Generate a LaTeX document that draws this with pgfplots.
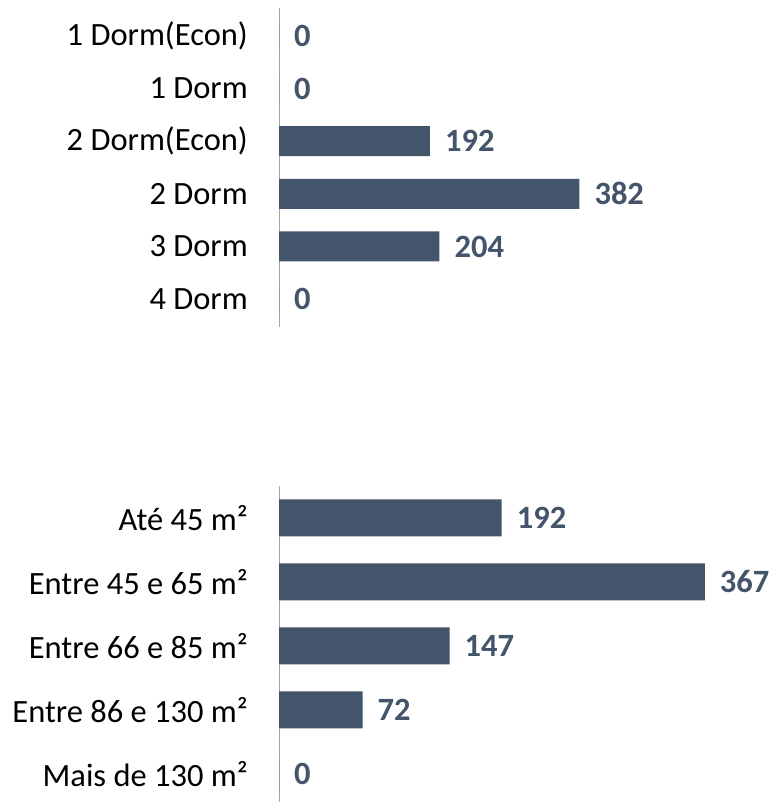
\documentclass[border=0pt]{standalone}
\usepackage{fontspec}
\setmainfont{Carlito}
\usepackage{pgfplots}
\pgfplotsset{compat=1.18}
\definecolor{barblue}{HTML}{44546A}
\definecolor{axisgray}{HTML}{A6A6A6}
\pgfplotsset{
  hbars/.style={
    xbar, scale only axis, clip=false,
    axis x line=none, axis y line*=left,
    y axis line style={draw=axisgray, line width=1pt, -},
    y dir=reverse, xmin=0,
    major tick length=0pt,
    /pgf/number format/assume math mode=true,
    yticklabel style={font=\fontsize{32.5}{38}\selectfont, inner sep=0pt, anchor=east, xshift=-31pt},
    nodes near coords,
    nodes near coords style={font=\fontsize{32.5}{38}\selectfont\bfseries, text=barblue, inner sep=0pt, anchor=west, xshift=15pt},
  }
}
\begin{document}
\begin{tikzpicture}
\useasboundingbox (0,0) rectangle (779pt,802pt);

% rooms
\begin{axis}[hbars,
    at={(279pt,475pt)}, anchor=south west,
    width=500pt, height=319pt,
    xmax=636, ymin=-0.53, ymax=5.53,
    bar width=30pt,
    ytick={0,1,2,3,4,5},
    yticklabels={1 Dorm(Econ),1 Dorm,2 Dorm(Econ),2 Dorm,3 Dorm,4 Dorm},
]
\addplot[fill=barblue, draw=none] coordinates {
    (0,0) (0,1) (192,2) (382,3) (204,4) (0,5)
};
\end{axis}

% area
\begin{axis}[hbars,
    at={(279pt,0pt)}, anchor=south west,
    width=500pt, height=316pt,
    xmax=431, ymin=-0.5, ymax=4.44,
    bar width=37pt,
    ytick={0,1,2,3,4},
    yticklabels={Até 45 m²,Entre 45 e 65 m²,Entre 66 e 85 m²,Entre 86 e 130 m²,Mais de 130 m²},
]
\addplot[fill=barblue, draw=none] coordinates {
    (192,0) (367,1) (147,2) (72,3) (0,4)
};
\end{axis}
\end{tikzpicture}
\end{document}
